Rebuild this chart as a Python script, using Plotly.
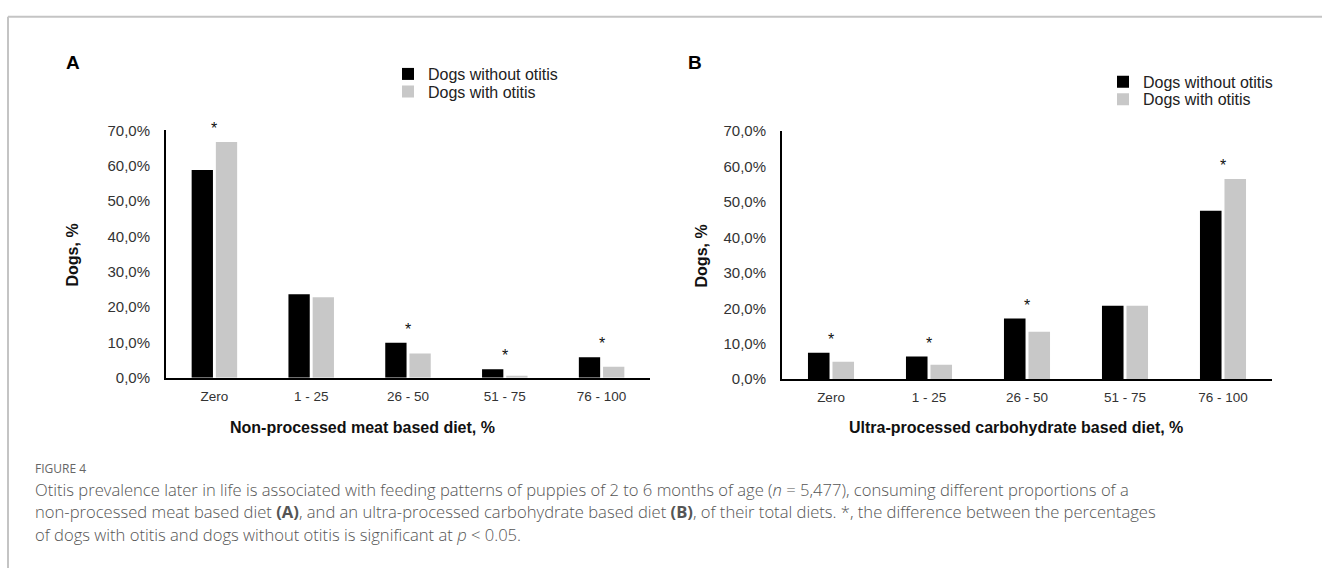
import plotly.graph_objects as go

# ---------------- data ----------------
categories = ["Zero", "1 - 25", "26 - 50", "51 - 75", "76 - 100"]

a_without_otitis = [58.8, 23.6, 9.9, 2.4, 5.8]
a_with_otitis = [66.7, 22.8, 6.9, 0.6, 3.1]
a_significant = [True, False, True, True, True]

b_without_otitis = [7.5, 6.4, 17.1, 20.7, 47.5]
b_with_otitis = [4.9, 4.1, 13.4, 20.7, 56.4]
b_significant = [True, True, True, False, True]

y_ticks = [0, 10, 20, 30, 40, 50, 60, 70]
y_tick_labels = ["0,0%", "10,0%", "20,0%", "30,0%", "40,0%", "50,0%", "60,0%", "70,0%"]

series_names = ["Dogs without otitis", "Dogs with otitis"]
x_title_a = "Non-processed meat based diet, %"
x_title_b = "Ultra-processed carbohydrate based diet, %"
y_title = "Dogs, %"

caption_head = "FIGURE 4"
caption_lines = [
    "Otitis prevalence later in life is associated with feeding patterns of puppies of 2 to 6 months of age (<i>n</i> = 5,477), consuming different proportions of a",
    "non-processed meat based diet <b>(A)</b>, and an ultra-processed carbohydrate based diet <b>(B)</b>, of their total diets. *, the difference between the percentages",
    "of dogs with otitis and dogs without otitis is significant at <i>p</i> &lt; 0.05.",
]

# ---------------- layout helpers ----------------
W, H = 1322, 576
FONT = "Liberation Sans, Arial, sans-serif"
CAP_FONT = "Open Sans, Noto Sans, sans-serif"
BLACK = "#000000"
GREY = "#c8c8c8"


def fx(px):
    return px / W


def fy(py):
    return 1 - py / H


fig = go.Figure()

fig.add_trace(go.Bar(x=categories, y=a_without_otitis, name=series_names[0],
                     marker=dict(color=BLACK, line=dict(width=0)),
                     xaxis="x", yaxis="y", legend="legend"))
fig.add_trace(go.Bar(x=categories, y=a_with_otitis, name=series_names[1],
                     marker=dict(color=GREY, line=dict(width=0)),
                     xaxis="x", yaxis="y", legend="legend2"))
fig.add_trace(go.Bar(x=categories, y=b_without_otitis, name=series_names[0],
                     marker=dict(color=BLACK, line=dict(width=0)),
                     xaxis="x2", yaxis="y2", legend="legend3"))
fig.add_trace(go.Bar(x=categories, y=b_with_otitis, name=series_names[1],
                     marker=dict(color=GREY, line=dict(width=0)),
                     xaxis="x2", yaxis="y2", legend="legend4"))

xaxis_common = dict(showline=True, linecolor="black", linewidth=2, showgrid=False,
                    zeroline=False, ticks="", tickfont=dict(family=FONT, size=13.5, color="#333333"),
                    ticklabelstandoff=5, fixedrange=True)
yaxis_common = dict(showline=True, linecolor="black", linewidth=2, showgrid=False,
                    zeroline=False, ticks="", range=[0, 70], tickmode="array",
                    tickvals=y_ticks, ticktext=y_tick_labels,
                    tickfont=dict(family=FONT, size=15, color="#333333"),
                    ticklabelstandoff=11, fixedrange=True)

fig.update_layout(
    width=W, height=H,
    margin=dict(l=0, r=0, t=0, b=0),
    paper_bgcolor="white", plot_bgcolor="white",
    barmode="group", bargap=0.5, bargroupgap=0.12,
    showlegend=True,
    font=dict(family=FONT, color="#222222"),
    xaxis=dict(domain=[fx(166), fx(650)], anchor="y", **xaxis_common),
    yaxis=dict(domain=[fy(380), fy(125)], anchor="x", **yaxis_common),
    xaxis2=dict(domain=[fx(782), fx(1272)], anchor="y2", **xaxis_common),
    yaxis2=dict(domain=[fy(381.5), fy(125.5)], anchor="x2", **yaxis_common),
)

legend_common = dict(xanchor="left", yanchor="middle", bgcolor="rgba(0,0,0,0)",
                     borderwidth=0, font=dict(family=FONT, size=16, color="#222222"))
fig.update_layout(
    legend=dict(x=fx(388), y=fy(67), **legend_common),
    legend2=dict(x=fx(388), y=fy(85), **legend_common),
    legend3=dict(x=fx(1103), y=fy(75), **legend_common),
    legend4=dict(x=fx(1103), y=fy(93), **legend_common),
)

annotations = []

# significance stars, placed just above the taller bar of each group
for xref, yref, sig, s1, s2 in [("x", "y", a_significant, a_without_otitis, a_with_otitis),
                                ("x2", "y2", b_significant, b_without_otitis, b_with_otitis)]:
    for cat, flag, v1, v2 in zip(categories, sig, s1, s2):
        if flag:
            annotations.append(dict(x=cat, y=max(v1, v2), xref=xref, yref=yref,
                                    text="*", showarrow=False, xanchor="center", yanchor="bottom",
                                    yshift=3, font=dict(family=FONT, size=16, color="#111111")))


def paper_text(x, y, text, size, color="#111111", family=FONT, angle=0, xanchor="center", weight=None):
    f = dict(family=family, size=size, color=color)
    if weight is not None:
        f["weight"] = weight
    return dict(x=fx(x), y=fy(y), xref="paper", yref="paper", text=text, textangle=angle,
                showarrow=False, xanchor=xanchor, yanchor="middle", font=f)


# panel letters
annotations.append(paper_text(73, 55, "<b>A</b>", 19, "black"))
annotations.append(paper_text(695, 55, "<b>B</b>", 19, "black"))

# axis titles
annotations.append(paper_text(362, 431, "<b>" + x_title_a + "</b>", 16))
annotations.append(paper_text(1016, 431, "<b>" + x_title_b + "</b>", 16))
annotations.append(paper_text(73, 254, "<b>" + y_title + "</b>", 16, angle=-90))
annotations.append(paper_text(701, 255, "<b>" + y_title + "</b>", 16, angle=-90))

# caption
annotations.append(paper_text(33, 473, caption_head, 12, "#666666", CAP_FONT, xanchor="left"))
for i, line in enumerate(caption_lines):
    annotations.append(paper_text(33, 495 + 23 * i, line, 16.6, "#555555", CAP_FONT,
                                  xanchor="left", weight=300))

fig.update_layout(annotations=annotations)

# figure frame (light grey left and top border)
fig.add_shape(type="line", xref="paper", yref="paper", x0=fx(8), y0=0, x1=fx(8), y1=fy(8),
              line=dict(color="#c4c4c4", width=2))
fig.add_shape(type="line", xref="paper", yref="paper", x0=fx(8), y0=fy(8), x1=1, y1=fy(8),
              line=dict(color="#c4c4c4", width=2))

fig.write_html("out.html", config={"displayModeBar": False},
               post_script="document.body.style.margin='0';document.body.style.overflow='hidden';")
